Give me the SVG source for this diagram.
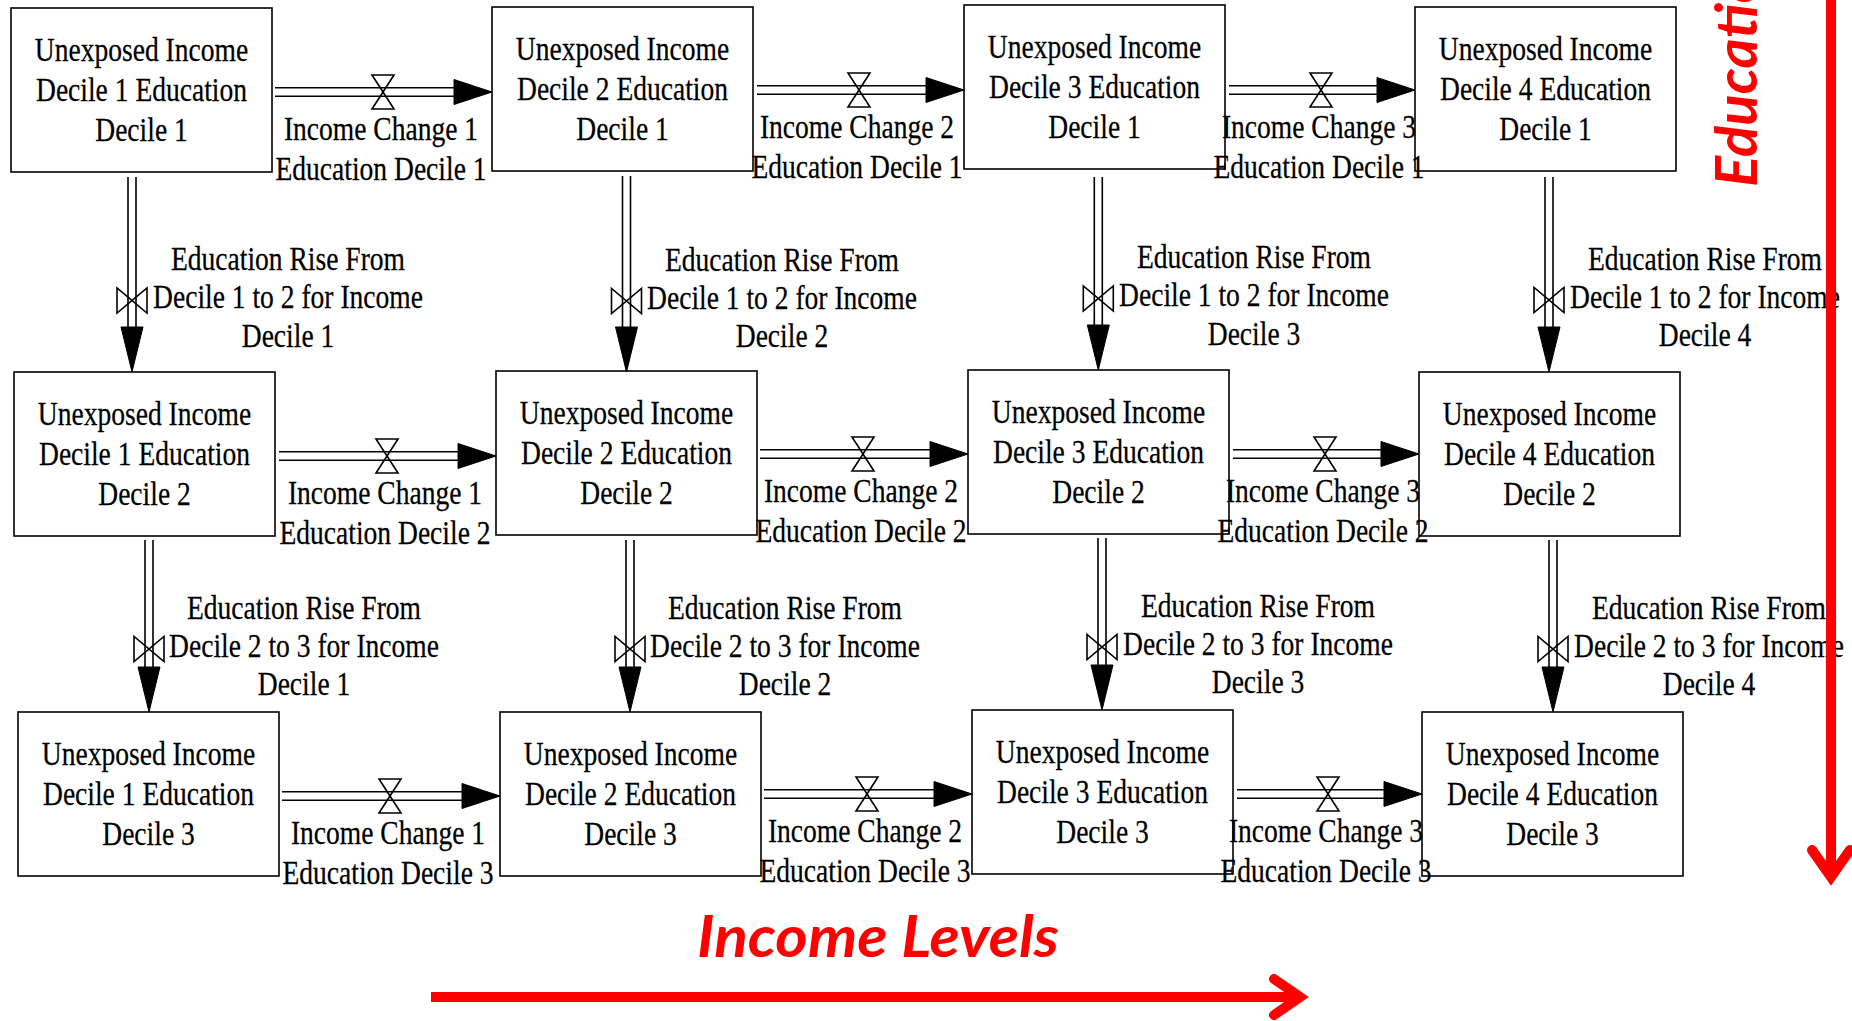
<svg xmlns="http://www.w3.org/2000/svg" xmlns:xlink="http://www.w3.org/1999/xlink" width="1852" height="1021" viewBox="0 0 1852 1021">
<style>
.bg{fill:#fff}
.box{fill:#fff;stroke:#000;stroke-width:1.6}
.pipe{fill:none;stroke:#000;stroke-width:1.6}
.head{fill:#000;stroke:#000;stroke-width:1}
.valve{fill:none;stroke:#000;stroke-width:1.6}
.t{font-family:"Liberation Serif","Times New Roman",serif;font-size:33px;text-anchor:middle;fill:#000;stroke:#000;stroke-width:0.25}
.red{fill:none;stroke:#ff0000;stroke-width:10}
.rt{font-family:Lato,"Open Sans",sans-serif;font-size:58px;font-weight:bold;font-style:italic;fill:#ff0000}
</style>
<defs>
<path id="harrow" d="M-38,-12.5 L0,0 L-38,12.5 Z"/>
<path id="varrow" d="M-11,-45 L0,0 L11,-45 Z"/>
<path id="hvalve" d="M-11,-17 H11 L-11,17 H11 Z"/>
<path id="vvalve" d="M-15,-12.5 V12.5 L15,-12.5 V12.5 Z"/>
</defs>
<rect class="bg" x="0" y="0" width="1852" height="1021"/>

<g id="nodes">
<g id="stock-i1-e1"><rect class="box" x="11" y="8" width="261" height="164"/>
<text class="t" transform="matrix(0.835 0 0 1 141.5 0)"><tspan x="0" y="61">Unexposed Income</tspan><tspan x="0" y="101">Decile 1 Education</tspan><tspan x="0" y="141">Decile 1</tspan></text></g>
<g id="stock-i2-e1"><rect class="box" x="492" y="7" width="261" height="164"/>
<text class="t" transform="matrix(0.835 0 0 1 622.5 0)"><tspan x="0" y="60">Unexposed Income</tspan><tspan x="0" y="100">Decile 2 Education</tspan><tspan x="0" y="140">Decile 1</tspan></text></g>
<g id="stock-i3-e1"><rect class="box" x="964" y="5" width="261" height="164"/>
<text class="t" transform="matrix(0.835 0 0 1 1094.5 0)"><tspan x="0" y="58">Unexposed Income</tspan><tspan x="0" y="98">Decile 3 Education</tspan><tspan x="0" y="138">Decile 1</tspan></text></g>
<g id="stock-i4-e1"><rect class="box" x="1415" y="7" width="261" height="164"/>
<text class="t" transform="matrix(0.835 0 0 1 1545.5 0)"><tspan x="0" y="60">Unexposed Income</tspan><tspan x="0" y="100">Decile 4 Education</tspan><tspan x="0" y="140">Decile 1</tspan></text></g>

<g id="stock-i1-e2"><rect class="box" x="14" y="372" width="261" height="164"/>
<text class="t" transform="matrix(0.835 0 0 1 144.5 0)"><tspan x="0" y="425">Unexposed Income</tspan><tspan x="0" y="465">Decile 1 Education</tspan><tspan x="0" y="505">Decile 2</tspan></text></g>
<g id="stock-i2-e2"><rect class="box" x="496" y="371" width="261" height="164"/>
<text class="t" transform="matrix(0.835 0 0 1 626.5 0)"><tspan x="0" y="424">Unexposed Income</tspan><tspan x="0" y="464">Decile 2 Education</tspan><tspan x="0" y="504">Decile 2</tspan></text></g>
<g id="stock-i3-e2"><rect class="box" x="968" y="370" width="261" height="164"/>
<text class="t" transform="matrix(0.835 0 0 1 1098.5 0)"><tspan x="0" y="423">Unexposed Income</tspan><tspan x="0" y="463">Decile 3 Education</tspan><tspan x="0" y="503">Decile 2</tspan></text></g>
<g id="stock-i4-e2"><rect class="box" x="1419" y="372" width="261" height="164"/>
<text class="t" transform="matrix(0.835 0 0 1 1549.5 0)"><tspan x="0" y="425">Unexposed Income</tspan><tspan x="0" y="465">Decile 4 Education</tspan><tspan x="0" y="505">Decile 2</tspan></text></g>

<g id="stock-i1-e3"><rect class="box" x="18" y="712" width="261" height="164"/>
<text class="t" transform="matrix(0.835 0 0 1 148.5 0)"><tspan x="0" y="765">Unexposed Income</tspan><tspan x="0" y="805">Decile 1 Education</tspan><tspan x="0" y="845">Decile 3</tspan></text></g>
<g id="stock-i2-e3"><rect class="box" x="500" y="712" width="261" height="164"/>
<text class="t" transform="matrix(0.835 0 0 1 630.5 0)"><tspan x="0" y="765">Unexposed Income</tspan><tspan x="0" y="805">Decile 2 Education</tspan><tspan x="0" y="845">Decile 3</tspan></text></g>
<g id="stock-i3-e3"><rect class="box" x="972" y="710" width="261" height="164"/>
<text class="t" transform="matrix(0.835 0 0 1 1102.5 0)"><tspan x="0" y="763">Unexposed Income</tspan><tspan x="0" y="803">Decile 3 Education</tspan><tspan x="0" y="843">Decile 3</tspan></text></g>
<g id="stock-i4-e3"><rect class="box" x="1422" y="712" width="261" height="164"/>
<text class="t" transform="matrix(0.835 0 0 1 1552.5 0)"><tspan x="0" y="765">Unexposed Income</tspan><tspan x="0" y="805">Decile 4 Education</tspan><tspan x="0" y="845">Decile 3</tspan></text></g>
</g>

<g id="connectors">
<g id="flow-income1-edu1"><path class="pipe" d="M275,87.8 H455 M275,96.2 H455"/><use xlink:href="#harrow" class="head" x="492" y="92"/><use xlink:href="#hvalve" class="valve" x="383" y="92"/>
<text class="t" transform="matrix(0.835 0 0 1 381 0)"><tspan x="0" y="140">Income Change 1</tspan><tspan x="0" y="180">Education Decile 1</tspan></text></g>
<g id="flow-income2-edu1"><path class="pipe" d="M757,85.8 H927 M757,94.2 H927"/><use xlink:href="#harrow" class="head" x="964" y="90"/><use xlink:href="#hvalve" class="valve" x="859" y="90"/>
<text class="t" transform="matrix(0.835 0 0 1 857 0)"><tspan x="0" y="138">Income Change 2</tspan><tspan x="0" y="178">Education Decile 1</tspan></text></g>
<g id="flow-income3-edu1"><path class="pipe" d="M1229,85.8 H1378 M1229,94.2 H1378"/><use xlink:href="#harrow" class="head" x="1415" y="90"/><use xlink:href="#hvalve" class="valve" x="1321" y="90"/>
<text class="t" transform="matrix(0.835 0 0 1 1319 0)"><tspan x="0" y="138">Income Change 3</tspan><tspan x="0" y="178">Education Decile 1</tspan></text></g>

<g id="flow-income1-edu2"><path class="pipe" d="M279,451.8 H459 M279,460.2 H459"/><use xlink:href="#harrow" class="head" x="496" y="456"/><use xlink:href="#hvalve" class="valve" x="387" y="456"/>
<text class="t" transform="matrix(0.835 0 0 1 385 0)"><tspan x="0" y="504">Income Change 1</tspan><tspan x="0" y="544">Education Decile 2</tspan></text></g>
<g id="flow-income2-edu2"><path class="pipe" d="M760,449.8 H931 M760,458.2 H931"/><use xlink:href="#harrow" class="head" x="968" y="454"/><use xlink:href="#hvalve" class="valve" x="863" y="454"/>
<text class="t" transform="matrix(0.835 0 0 1 861 0)"><tspan x="0" y="502">Income Change 2</tspan><tspan x="0" y="542">Education Decile 2</tspan></text></g>
<g id="flow-income3-edu2"><path class="pipe" d="M1233,449.8 H1382 M1233,458.2 H1382"/><use xlink:href="#harrow" class="head" x="1419" y="454"/><use xlink:href="#hvalve" class="valve" x="1325" y="454"/>
<text class="t" transform="matrix(0.835 0 0 1 1323 0)"><tspan x="0" y="502">Income Change 3</tspan><tspan x="0" y="542">Education Decile 2</tspan></text></g>

<g id="flow-income1-edu3"><path class="pipe" d="M282,791.8 H463 M282,800.2 H463"/><use xlink:href="#harrow" class="head" x="500" y="796"/><use xlink:href="#hvalve" class="valve" x="390" y="796"/>
<text class="t" transform="matrix(0.835 0 0 1 388 0)"><tspan x="0" y="844">Income Change 1</tspan><tspan x="0" y="884">Education Decile 3</tspan></text></g>
<g id="flow-income2-edu3"><path class="pipe" d="M764,789.8 H935 M764,798.2 H935"/><use xlink:href="#harrow" class="head" x="972" y="794"/><use xlink:href="#hvalve" class="valve" x="867" y="794"/>
<text class="t" transform="matrix(0.835 0 0 1 865 0)"><tspan x="0" y="842">Income Change 2</tspan><tspan x="0" y="882">Education Decile 3</tspan></text></g>
<g id="flow-income3-edu3"><path class="pipe" d="M1237,789.8 H1385 M1237,798.2 H1385"/><use xlink:href="#harrow" class="head" x="1422" y="794"/><use xlink:href="#hvalve" class="valve" x="1328" y="794"/>
<text class="t" transform="matrix(0.835 0 0 1 1326 0)"><tspan x="0" y="842">Income Change 3</tspan><tspan x="0" y="882">Education Decile 3</tspan></text></g>

<g id="flow-edu12-income1"><path class="pipe" d="M128,177 V328 M136,177 V328"/><use xlink:href="#varrow" class="head" x="132" y="372"/><use xlink:href="#vvalve" class="valve" x="132" y="300.5"/>
<text class="t" transform="matrix(0.835 0 0 1 288 0)"><tspan x="0" y="270">Education Rise From</tspan><tspan x="0" y="308">Decile 1 to 2 for Income</tspan><tspan x="0" y="347">Decile 1</tspan></text></g>
<g id="flow-edu12-income2"><path class="pipe" d="M622.5,176 V328 M630.5,176 V328"/><use xlink:href="#varrow" class="head" x="626.5" y="372"/><use xlink:href="#vvalve" class="valve" x="626.5" y="301"/>
<text class="t" transform="matrix(0.835 0 0 1 782 0)"><tspan x="0" y="271">Education Rise From</tspan><tspan x="0" y="309">Decile 1 to 2 for Income</tspan><tspan x="0" y="347">Decile 2</tspan></text></g>
<g id="flow-edu12-income3"><path class="pipe" d="M1094.3,177 V326 M1102.3,177 V326"/><use xlink:href="#varrow" class="head" x="1098.3" y="370"/><use xlink:href="#vvalve" class="valve" x="1098.3" y="298.5"/>
<text class="t" transform="matrix(0.835 0 0 1 1254 0)"><tspan x="0" y="268">Education Rise From</tspan><tspan x="0" y="306">Decile 1 to 2 for Income</tspan><tspan x="0" y="345">Decile 3</tspan></text></g>
<g id="flow-edu12-income4"><path class="pipe" d="M1545,177 V328 M1553,177 V328"/><use xlink:href="#varrow" class="head" x="1549" y="372"/><use xlink:href="#vvalve" class="valve" x="1549" y="300"/>
<text class="t" transform="matrix(0.835 0 0 1 1705 0)"><tspan x="0" y="270">Education Rise From</tspan><tspan x="0" y="308">Decile 1 to 2 for Income</tspan><tspan x="0" y="346">Decile 4</tspan></text></g>

<g id="flow-edu23-income1"><path class="pipe" d="M145,540 V668 M153,540 V668"/><use xlink:href="#varrow" class="head" x="149" y="712"/><use xlink:href="#vvalve" class="valve" x="149" y="649"/>
<text class="t" transform="matrix(0.835 0 0 1 304 0)"><tspan x="0" y="619">Education Rise From</tspan><tspan x="0" y="657">Decile 2 to 3 for Income</tspan><tspan x="0" y="695">Decile 1</tspan></text></g>
<g id="flow-edu23-income2"><path class="pipe" d="M626,540 V668 M634,540 V668"/><use xlink:href="#varrow" class="head" x="630" y="712"/><use xlink:href="#vvalve" class="valve" x="630" y="649"/>
<text class="t" transform="matrix(0.835 0 0 1 785 0)"><tspan x="0" y="619">Education Rise From</tspan><tspan x="0" y="657">Decile 2 to 3 for Income</tspan><tspan x="0" y="695">Decile 2</tspan></text></g>
<g id="flow-edu23-income3"><path class="pipe" d="M1098,538 V666 M1106,538 V666"/><use xlink:href="#varrow" class="head" x="1102" y="710"/><use xlink:href="#vvalve" class="valve" x="1102" y="647"/>
<text class="t" transform="matrix(0.835 0 0 1 1258 0)"><tspan x="0" y="617">Education Rise From</tspan><tspan x="0" y="655">Decile 2 to 3 for Income</tspan><tspan x="0" y="693">Decile 3</tspan></text></g>
<g id="flow-edu23-income4"><path class="pipe" d="M1549,540 V668 M1557,540 V668"/><use xlink:href="#varrow" class="head" x="1553" y="712"/><use xlink:href="#vvalve" class="valve" x="1553" y="649"/>
<text class="t" transform="matrix(0.835 0 0 1 1709 0)"><tspan x="0" y="619">Education Rise From</tspan><tspan x="0" y="657">Decile 2 to 3 for Income</tspan><tspan x="0" y="695">Decile 4</tspan></text></g>
</g>

<g id="axes">
<g id="income-axis">
<text class="rt" x="878" y="957" text-anchor="middle" textLength="362" lengthAdjust="spacingAndGlyphs">Income Levels</text>
<path class="red" d="M431,997 H1298"/>
<path class="red" d="M1274,979 L1300,997 L1274,1015" stroke-linecap="round" stroke-linejoin="miter"/>
</g>
<g id="education-axis">
<text class="rt" transform="translate(1757,187) rotate(-90)" x="0" y="0">Education Levels</text>
<path class="red" d="M1831,0 V875"/>
<path class="red" d="M1812,850 L1831,877 L1850,850" stroke-linecap="round" stroke-linejoin="miter"/>
</g>
</g>
</svg>
